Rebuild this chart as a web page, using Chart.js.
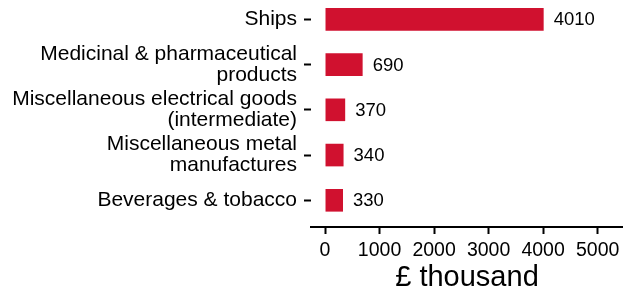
<!DOCTYPE html>
<html>
<head>
<meta charset="utf-8">
<script src="https://cdn.jsdelivr.net/npm/chart.js@4"></script>
<style>
  html, body { margin: 0; padding: 0; background: #fff; }
  canvas { display: block; }
</style>
</head>
<body>
<canvas id="chart" width="623" height="295"></canvas>
<script>
// ─── Data ─────────────────────────────────────────────────────────────────────
const categories = [
    'Ships',
    ['Medicinal & pharmaceutical', 'products'],
    ['Miscellaneous electrical goods', '(intermediate)'],
    ['Miscellaneous metal', 'manufactures'],
    'Beverages & tobacco'
];
const values = [4010, 690, 370, 340, 330];
const xTicks = [0, 1000, 2000, 3000, 4000, 5000];
const axisTitle = '£ thousand';

const FONT = '"Liberation Sans", Arial, sans-serif';
const BAR_RED = '#d0112f';

// ─── Value labels ─────────────────────────────────────────────────────────────
const valueLabels = {
    id: 'valueLabels',
    afterDatasetsDraw(chart) {
        const { ctx } = chart;
        const meta = chart.getDatasetMeta(0);
        ctx.save();
        ctx.font = `18.5px ${FONT}`;
        ctx.fillStyle = '#000';
        ctx.textAlign = 'left';
        ctx.textBaseline = 'middle';
        meta.data.forEach((bar, i) => {
            ctx.fillText(String(values[i]), bar.x + 10, bar.y + 1);
        });
        ctx.restore();
    }
};

// ─── Chart ────────────────────────────────────────────────────────────────────
new Chart(document.getElementById('chart'), {
    type: 'bar',
    data: {
        datasets: [{
            data: values.map((v, i) => ({ x: v, y: i })),
            backgroundColor: BAR_RED,
            borderWidth: 0,
            barPercentage: 0.5,
            categoryPercentage: 1
        }]
    },
    options: {
        indexAxis: 'y',
        responsive: false,
        animation: false,
        devicePixelRatio: 1,
        layout: { padding: 0 },
        plugins: { legend: { display: false }, tooltip: { enabled: false } },
        scales: {
            x: {
                type: 'linear',
                min: -257,
                max: 5465,
                afterBuildTicks: s => { s.ticks = xTicks.map(v => ({ value: v })); },
                afterFit: s => { s.height = 68; s.paddingLeft = 0; s.paddingRight = 0; },
                border: { display: true, color: '#000', width: 2 },
                grid: { drawOnChartArea: false, color: '#000', tickLength: 7, tickWidth: 2 },
                ticks: {
                    color: '#000', padding: 5, maxRotation: 0,
                    font: { family: FONT, size: 19.5 },
                    callback: v => String(v)
                },
                title: { display: true, text: axisTitle, color: '#000', padding: 0, font: { family: FONT, size: 29 } }
            },
            y: {
                type: 'linear',
                reverse: true,
                offset: false,
                min: -0.427,
                max: 4.59,
                afterBuildTicks: s => { s.ticks = categories.map((c, i) => ({ value: i })); },
                afterFit: s => { s.width = 311; s.paddingTop = 0; s.paddingBottom = 0; },
                border: { display: false },
                grid: { offset: false, drawOnChartArea: false, color: '#000', tickLength: 7, tickWidth: 2 },
                ticks: {
                    color: '#000',
                    padding: 7,
                    font: { family: FONT, size: 21, lineHeight: 1.0 },
                    callback: v => categories[v]
                }
            }
        }
    },
    plugins: [valueLabels]
});
</script>
</body>
</html>
